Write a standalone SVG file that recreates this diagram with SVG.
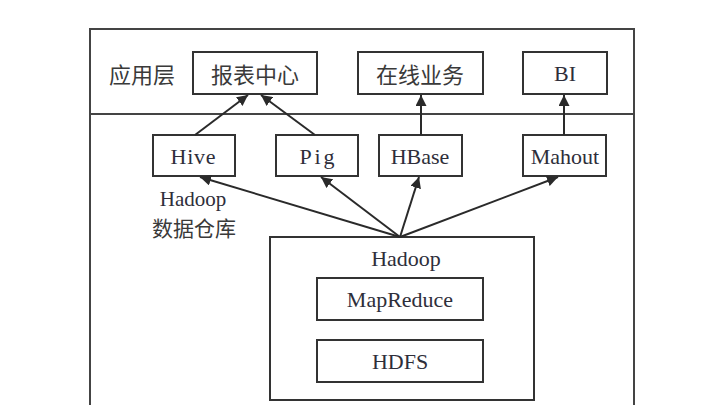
<svg xmlns="http://www.w3.org/2000/svg" width="716" height="405" viewBox="0 0 716 405">
<defs>
<marker id="ah" viewBox="0 0 10 10" refX="10" refY="5" markerWidth="5.5" markerHeight="5.5" orient="auto" markerUnits="strokeWidth">
<path d="M0,0 L10,5 L0,10 z" fill="#2a2a2a"/>
</marker>
<style>
.box{fill:#fff;stroke:#333;stroke-width:2}
.frame{fill:none;stroke:#444;stroke-width:2}
.t{font-family:"Liberation Serif","Noto Sans CJK SC",serif;font-size:22px;fill:#2e2e3a;text-anchor:middle;dominant-baseline:central}
.c{font-family:"Noto Sans CJK SC","Liberation Serif",sans-serif;font-size:22px;fill:#3a3a3a;text-anchor:middle;dominant-baseline:central}
.ln{stroke:#2a2a2a;stroke-width:2;fill:none;marker-end:url(#ah)}
</style>
</defs>
<rect width="716" height="405" fill="#fff"/>
<g id="frame">
<rect class="frame" x="90" y="29" width="544" height="390"/>
<line class="frame" x1="90" y1="114" x2="634" y2="114"/>
<text class="c" x="142" y="73">应用层</text>
</g>
<g id="report"><rect class="box" x="193" y="52" width="124" height="42"/><text class="c" x="255" y="73">报表中心</text></g>
<g id="online"><rect class="box" x="358" y="52" width="125" height="42"/><text class="c" x="420" y="73">在线业务</text></g>
<g id="bi"><rect class="box" x="523" y="52" width="84" height="42"/><text class="t" x="565" y="73">BI</text></g>
<g id="hive"><rect class="box" x="153" y="135" width="82" height="41"/><text class="t" x="193" y="156" textLength="45" lengthAdjust="spacing">Hive</text></g>
<g id="pig"><rect class="box" x="276" y="135" width="82" height="41"/><text class="t" x="317" y="156" textLength="35" lengthAdjust="spacing">Pig</text></g>
<g id="hbase"><rect class="box" x="379" y="135" width="83" height="41"/><text class="t" x="420" y="156">HBase</text></g>
<g id="mahout"><rect class="box" x="523" y="135" width="83" height="41"/><text class="t" x="565" y="156">Mahout</text></g>
<g id="dw-label">
<text class="t" x="193" y="199" style="font-size:21px">Hadoop</text>
<text class="c" x="194" y="227" style="font-size:21px">数据仓库</text>
</g>
<g id="hadoop">
<rect class="box" x="270" y="237" width="264" height="163"/>
<text class="t" x="406" y="258">Hadoop</text>
</g>
<g id="mapreduce"><rect class="box" x="317" y="278" width="166" height="42"/><text class="t" x="400" y="299">MapReduce</text></g>
<g id="hdfs"><rect class="box" x="317" y="340" width="166" height="42"/><text class="t" x="400" y="361">HDFS</text></g>
<g id="connectors">
<line class="ln" x1="195" y1="135" x2="248" y2="95"/>
<line class="ln" x1="315" y1="135" x2="261" y2="95"/>
<line class="ln" x1="421" y1="135" x2="421" y2="95"/>
<line class="ln" x1="564" y1="135" x2="564" y2="95"/>
<line class="ln" x1="400" y1="237" x2="200" y2="177"/>
<line class="ln" x1="400" y1="237" x2="321" y2="177"/>
<line class="ln" x1="400" y1="237" x2="419" y2="177"/>
<line class="ln" x1="400" y1="237" x2="558" y2="177"/>
</g>
</svg>
